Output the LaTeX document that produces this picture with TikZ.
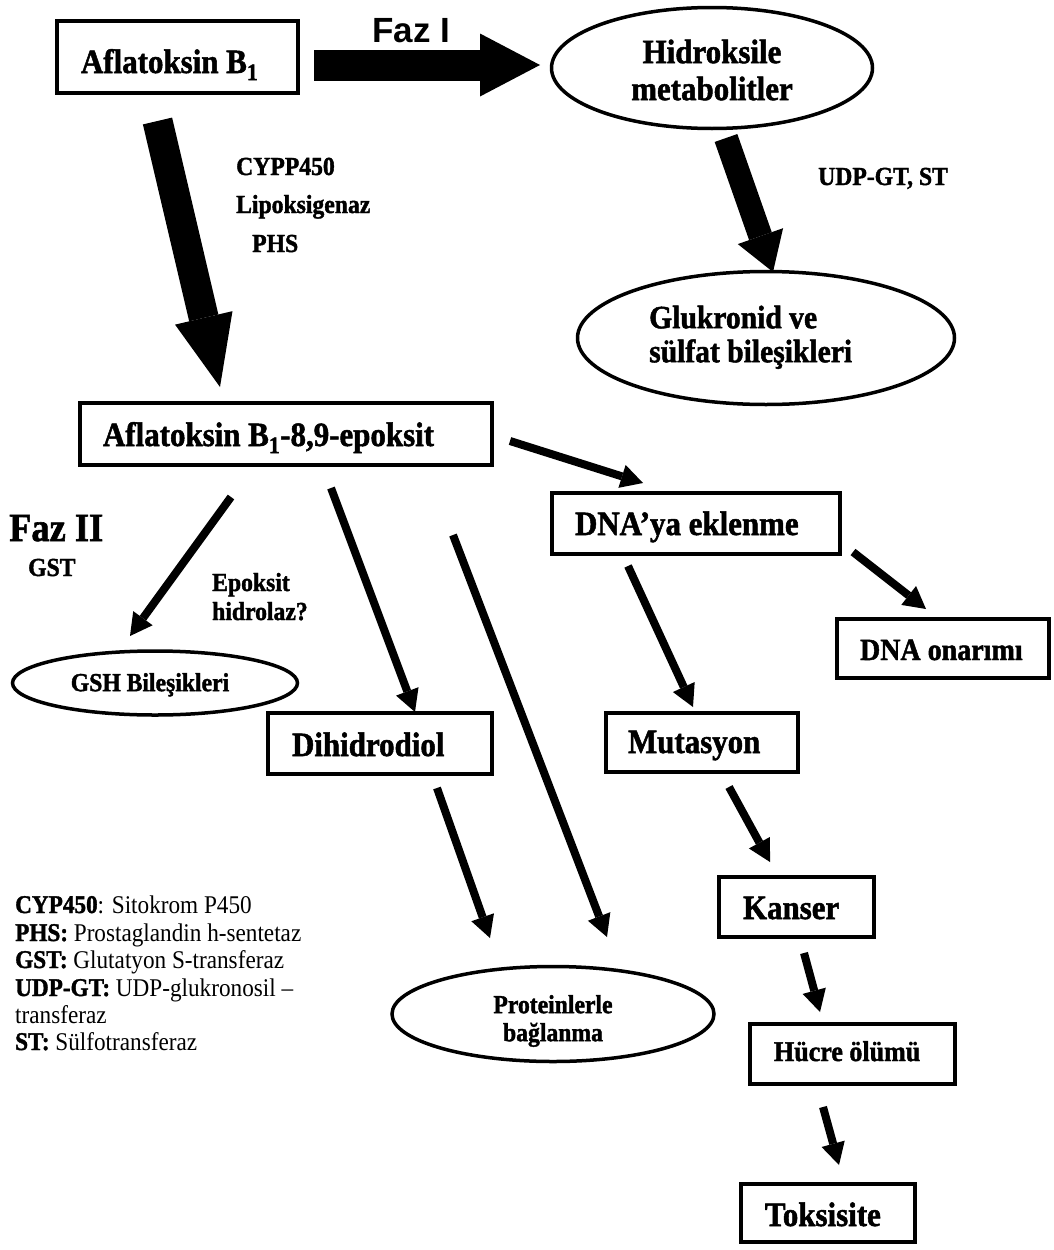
\documentclass[tikz,border=0pt]{standalone}
\usepackage{fontspec}
\setmainfont{Liberation Serif}[FakeStretch=0.91, BoldFeatures={FakeBold=1.5}]
\newfontfamily\sansfont{Liberation Sans}
\usetikzlibrary{arrows.meta,shapes.geometric}
\newcommand{\bx}[2]{\makebox[#1][l]{#2}}
\begin{document}
\begin{tikzpicture}[x=1pt,y=-1pt,
  boxn/.style={draw, line width=4pt, rectangle, inner ysep=0pt, text depth=0pt,
    font=\bfseries\fontsize{34}{37}\selectfont},
  ell/.style={draw, ellipse, line width=3.5pt, inner sep=0pt},
  etext/.style={inner sep=0pt, align=center},
  arrowthin/.style={line width=8pt, -{Triangle[length=22pt,width=24pt,line width=0pt]}},
  blk/.style n args={3}{line width=#1, -{Triangle[length=#2,width=#3,line width=0pt]}},
  lab/.style={font=\bfseries\fontsize{26}{28}\selectfont, anchor=base west, inner sep=0pt},
  leg/.style={font=\fontsize{25.5}{28}\selectfont, anchor=base west, inner sep=0pt}]
\fill[white] (0,0) rectangle (1053,1250);
\useasboundingbox (0,0) rectangle (1053,1250);

% boxes
\node[boxn, inner xsep=24pt, minimum height=72pt, text height=32pt] (A) at (177.5,57) {\bx{193pt}{Aflatoksin B\textsubscript{1}}};
\node[boxn, inner xsep=23pt, minimum height=62pt, text height=24pt] (E) at (286,434) {\bx{366pt}{Aflatoksin B\textsubscript{1}-8,9-epoksit}};
\node[boxn, inner xsep=23pt, minimum height=61pt, text height=23pt] (D) at (696,523.5) {\bx{242pt}{DNA’ya eklenme}};
\node[boxn, inner xsep=23pt, minimum height=59pt, text height=23pt, font=\bfseries\fontsize{30.8}{33}\selectfont] (O) at (943,648.5) {\bx{166pt}{DNA onarımı}};
\node[boxn, inner xsep=24pt, minimum height=61pt, text height=25pt] (Di) at (380,743.5) {\bx{176pt}{Dihidrodiol}};
\node[boxn, inner xsep=22pt, minimum height=59pt, text height=21pt] (M) at (702,742.5) {\bx{148pt}{Mutasyon}};
\node[boxn, inner xsep=24pt, minimum height=60pt, text height=24pt] (K) at (796.5,907) {\bx{107pt}{Kanser}};
\node[boxn, inner xsep=24pt, minimum height=60pt, text height=14pt, font=\bfseries\fontsize{28.6}{31}\selectfont] (H) at (852.5,1054) {\bx{157pt}{Hücre ölümü}};
\node[boxn, inner xsep=24pt, minimum height=58pt, text height=26pt] (T) at (828,1213) {\bx{126pt}{Toksisite}};

% ellipses
\node[ell, minimum width=321pt, minimum height=121pt] (HM) at (712,68) {};
\node[etext, font=\bfseries\fontsize{34}{37}\selectfont] (HMt) at (712,70) {Hidroksile\\metabolitler};
\node[ell, minimum width=377pt, minimum height=133pt] (G) at (766,338) {};
\node[anchor=west, align=left, inner sep=0pt, font=\bfseries\fontsize{32.5}{34}\selectfont] (Gt) at (649,337.3) {Glukronid ve\\sülfat bileşikleri};
\node[ell, minimum width=285pt, minimum height=64pt] (GSH) at (155,683) {};
\node[etext, font=\bfseries\fontsize{26}{28}\selectfont] (GSHt) at (150,684.8) {GSH Bileşikleri};
\node[ell, minimum width=322pt, minimum height=95pt] (P) at (553,1014) {};
\node[etext, font=\bfseries\fontsize{26}{28}\selectfont] (Pt) at (553,1021) {Proteinlerle\\bağlanma};

% labels
\node[anchor=base west, inner sep=0pt, font=\sansfont\bfseries\fontsize{35}{40}\selectfont] (faz1) at (372,42) {Faz I};
\node[anchor=base west, inner sep=0pt, font=\bfseries\fontsize{40}{44}\selectfont] (faz2) at (9,541) {Faz II};
\node[lab] (gst) at (28,576) {GST};
\node[lab] (cyp) at (236,175) {CYPP450};
\node[lab] (lip) at (236,213) {Lipoksigenaz};
\node[lab] (phs) at (252,252) {PHS};
\node[lab] (udp) at (818,185) {UDP-GT, ST};
\node[lab] (ep1) at (212,591) {Epoksit};
\node[lab] (ep2) at (212,620) {hidrolaz?};

% legend
\node[leg] (l1) at (15,913) {\textbf{CYP450}: Sitokrom P450};
\node[leg] (l2) at (15,941) {\textbf{PHS:} Prostaglandin h-sentetaz};
\node[leg] (l3) at (15,968) {\textbf{GST:} Glutatyon S-transferaz};
\node[leg] (l4) at (15,996) {\textbf{UDP-GT:} UDP-glukronosil --};
\node[leg] (l5) at (15,1023) {transferaz};
\node[leg] (l6) at (15,1050) {\textbf{ST:} Sülfotransferaz};

% connector end points
\coordinate (f1s) at (314,65);   \coordinate (f1e) at (540,65);
\coordinate (f2s) at (157.5,121); \coordinate (f2e) at (220,387);
\coordinate (f3s) at (726,138);  \coordinate (f3e) at (773,272);
\coordinate (c1s) at (510,441);  \coordinate (c1e) at (643,483);
\coordinate (c2s) at (231,497);  \coordinate (c2e) at (130,636);
\coordinate (c3s) at (331,488);  \coordinate (c3e) at (415,712);
\coordinate (c4s) at (453,535);  \coordinate (c4e) at (607,937);
\coordinate (c5s) at (437,788);  \coordinate (c5e) at (490,938);
\coordinate (c6s) at (628,566);  \coordinate (c6e) at (693,707);
\coordinate (c7s) at (853,552);  \coordinate (c7e) at (926,609);
\coordinate (c8s) at (729,787);  \coordinate (c8e) at (770,862);
\coordinate (c9s) at (804,953);  \coordinate (c9e) at (820,1012);
\coordinate (c10s) at (823,1107); \coordinate (c10e) at (839,1165);

% block arrows
\draw[blk={31pt}{60pt}{63pt}] (f1s) -- (f1e);
\draw[blk={30pt}{71pt}{59pt}] (f2s) -- (f2e);
\draw[blk={24pt}{38pt}{48pt}] (f3s) -- (f3e);

% thin arrows
\draw[arrowthin] (c1s) -- (c1e);
\draw[arrowthin] (c2s) -- (c2e);
\draw[arrowthin] (c3s) -- (c3e);
\draw[arrowthin] (c4s) -- (c4e);
\draw[arrowthin] (c5s) -- (c5e);
\draw[arrowthin] (c6s) -- (c6e);
\draw[arrowthin] (c7s) -- (c7e);
\draw[arrowthin] (c8s) -- (c8e);
\draw[arrowthin] (c9s) -- (c9e);
\draw[arrowthin] (c10s) -- (c10e);
\end{tikzpicture}
\end{document}
